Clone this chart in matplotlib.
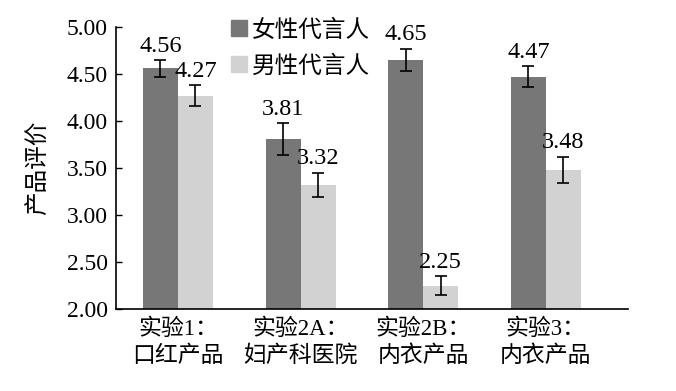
import numpy as np
import matplotlib.pyplot as plt
from matplotlib.patches import Patch

# data
groups = ["实验1：\n口红产品", "实验2A：\n妇产科医院", "实验2B：\n内衣产品", "实验3：\n内衣产品"]
female = [4.56, 3.81, 4.65, 4.47]
male = [4.27, 3.32, 2.25, 3.48]
female_err = [0.09, 0.17, 0.12, 0.11]
male_err = [0.11, 0.13, 0.10, 0.14]
series_names = ["女性代言人", "男性代言人"]
yticks = [2.00, 2.50, 3.00, 3.50, 4.00, 4.50, 5.00]

fonts = ["Liberation Serif", "Noto Sans CJK SC"]
plt.rcParams["font.family"] = fonts

dark = "#777777"
light = "#d2d2d2"

fig = plt.figure(figsize=(6.76, 3.91), dpi=100)
ax = fig.add_axes([0.1716, 0.2097, 0.929 - 0.1716, 0.931 - 0.2097])

x = np.arange(len(groups))
w = 0.285
ax.bar(x - w / 2, female, w, color=dark, zorder=2)
ax.bar(x + w / 2, male, w, color=light, zorder=2)
ax.errorbar(x - w / 2, female, yerr=female_err, fmt="none", ecolor="black",
            elinewidth=1.2, capsize=4, capthick=1.2, zorder=3)
ax.errorbar(x + w / 2, male, yerr=male_err, fmt="none", ecolor="black",
            elinewidth=1.2, capsize=4, capthick=1.2, zorder=3)

for xi, v, e in zip(x - w / 2, female, female_err):
    ax.text(xi, v + e + 0.035, f"{v:.2f}", ha="center", va="bottom", fontsize=17.5)
for xi, v, e in zip(x + w / 2, male, male_err):
    ax.text(xi, v + e + 0.035, f"{v:.2f}", ha="center", va="bottom", fontsize=17.5)

ax.set_ylim(2.0, 5.0)
ax.set_xlim(-0.505, 3.67)
ax.set_yticks(yticks)
ax.set_yticklabels([f"{t:.2f}" for t in yticks], fontsize=17)
ax.set_xticks(x)
ax.set_xticklabels(groups, fontsize=16.5, linespacing=1.3)
ax.tick_params(axis="x", length=0, pad=7)
ax.tick_params(axis="y", direction="in", length=4, width=1, pad=6)
ax.set_ylabel("产品评价", fontsize=17, labelpad=12)

for s in ["top", "right"]:
    ax.spines[s].set_visible(False)
ax.spines["left"].set_linewidth(1.2)
ax.spines["bottom"].set_linewidth(1.2)

handles = [Patch(color=dark), Patch(color=light)]
ax.legend(handles, series_names, loc="upper left", bbox_to_anchor=(0.225, 1.027),
          frameon=False, fontsize=17, handlelength=0.65, handleheight=0.65,
          handletextpad=0.25, labelspacing=0.58, borderpad=0, borderaxespad=0)

fig.savefig("out.png", dpi=100)
